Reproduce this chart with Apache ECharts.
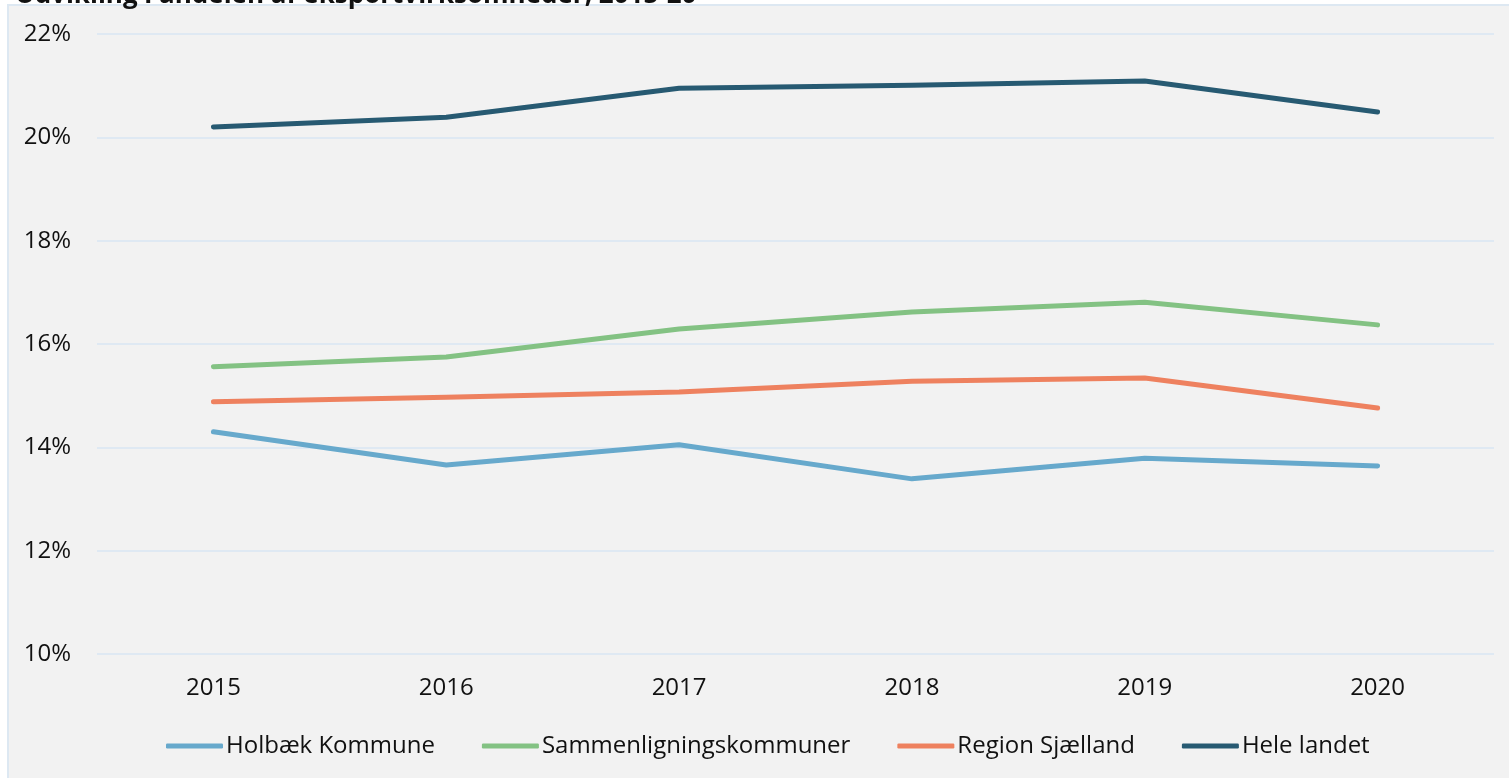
<!DOCTYPE html>
<html>
<head>
<meta charset="utf-8">
<script src="https://cdn.jsdelivr.net/npm/echarts@6/dist/echarts.min.js"></script>
<style>
html,body{margin:0;padding:0;background:#ffffff;}
#chart{width:1509px;height:778px;}
</style>
</head>
<body>
<div id="chart"></div>
<script>
var titleText = "Udvikling i andelen af eksportvirksomheder, 2015-20";
var categories = ["2015", "2016", "2017", "2018", "2019", "2020"];
var seriesNames = ["Holbæk Kommune", "Sammenligningskommuner", "Region Sjælland", "Hele landet"];
var holbaek = [14.30, 13.66, 14.05, 13.39, 13.79, 13.64];
var sammenligning = [15.56, 15.75, 16.29, 16.62, 16.81, 16.37];
var regionSj = [14.88, 14.97, 15.07, 15.28, 15.34, 14.76];
var heleLandet = [20.20, 20.39, 20.95, 21.01, 21.09, 20.49];
var colors = ["#67a9cc", "#83c283", "#ee815f", "#275a72"];

var chart = echarts.init(document.getElementById('chart'), null, {renderer: 'canvas'});
var font = "'Open Sans', sans-serif";
function mk(name, data, c) {
  return {
    name: name, type: 'line', data: data, symbol: 'none', smooth: false,
    lineStyle: {width: 5, color: c, cap: 'round', join: 'round'},
    itemStyle: {color: c}
  };
}
chart.setOption({
  animation: false,
  textStyle: {fontFamily: font},
  title: {
    text: titleText, left: 10, top: -22, padding: 5,
    textStyle: {fontFamily: font, fontSize: 26, fontWeight: 'bold', color: '#111111'}
  },
  graphic: [{
    type: 'rect', z: -10, silent: true,
    shape: {x: 8, y: 5, width: 1520, height: 800},
    style: {fill: '#f2f2f2', stroke: '#dde8f2', lineWidth: 2}
  }],
  grid: {left: 97, right: 15, top: 34, bottom: 124, containLabel: false},
  legend: {
    left: 166, top: 734, itemWidth: 57, itemHeight: 5, itemGap: 47, padding: 0,
    icon: 'roundRect',
    textStyle: {fontFamily: font, fontSize: 24, color: '#111111', padding: [0, 0, 0, -2]},
    data: seriesNames
  },
  xAxis: {
    type: 'category', data: categories, boundaryGap: true,
    axisLine: {show: false}, axisTick: {show: false},
    axisLabel: {fontFamily: font, fontSize: 24, color: '#111111', margin: 22}
  },
  yAxis: {
    type: 'value', min: 10, max: 22, interval: 2,
    axisLine: {show: false}, axisTick: {show: false},
    splitLine: {lineStyle: {color: '#dfe9f3', width: 2}},
    axisLabel: {fontFamily: font, fontSize: 24, color: '#111111', margin: 26,
      formatter: function (v) { return v + '%'; }}
  },
  series: [
    mk(seriesNames[0], holbaek, colors[0]),
    mk(seriesNames[1], sammenligning, colors[1]),
    mk(seriesNames[2], regionSj, colors[2]),
    mk(seriesNames[3], heleLandet, colors[3])
  ]
});
</script>
</body>
</html>
